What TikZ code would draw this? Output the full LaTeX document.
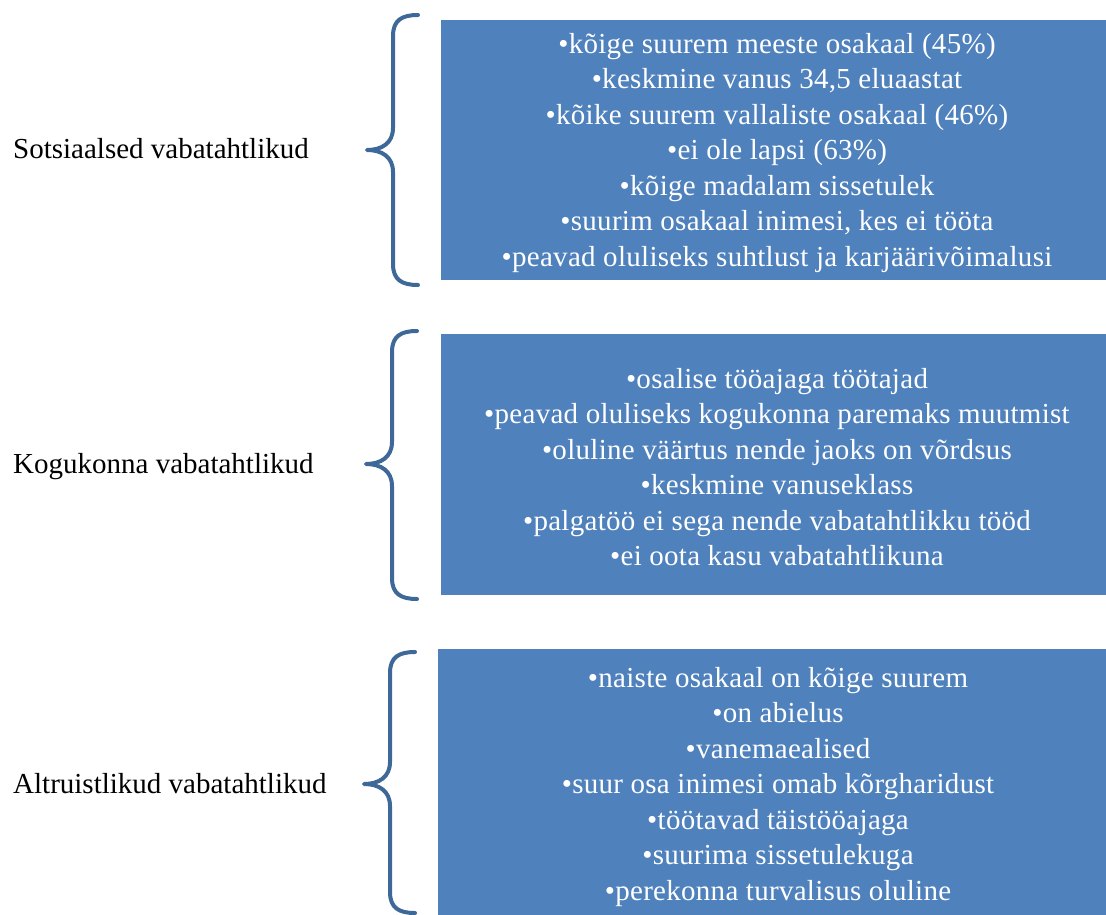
\documentclass[tikz,border=0pt]{standalone}
\usepackage{fontspec}
\setmainfont{Liberation Serif}
\newfontfamily\boxfont[LetterSpace=1]{Liberation Serif}
\definecolor{boxblue}{HTML}{4F81BD}
\definecolor{braceblue}{HTML}{3D6898}
\tikzset{
  infobox/.style={fill=boxblue, draw=none, anchor=north west, inner sep=0pt},
  boxtext/.style={text=white, align=center, font=\boxfont\fontsize{29}{35.5}\selectfont, inner sep=0pt},
  label/.style={anchor=base west, font=\fontsize{29}{33}\selectfont, inner sep=0pt},
  bracestyle/.style={draw=braceblue, line width=4pt, line cap=round, line join=round}
}
\begin{document}
\begin{tikzpicture}[x=1pt,y=-1pt]
\useasboundingbox (0,0) rectangle (1106,915);
\begin{scope}
\clip (0,0) rectangle (1106,915);
\node[infobox, minimum width=672pt, minimum height=260pt] (b1) at (441,20) {};
\node[infobox, minimum width=672pt, minimum height=261pt] (b2) at (441,334) {};
\node[infobox, minimum width=680pt, minimum height=272pt] (b3) at (438,649) {};
\end{scope}

\node[boxtext] (t1) at (777,153) {•kõige suurem meeste osakaal (45\%)\\•keskmine vanus 34,5 eluaastat\\•kõike suurem vallaliste osakaal (46\%)\\•ei ole lapsi (63\%)\\•kõige madalam sissetulek\\•suurim osakaal inimesi, kes ei tööta\\•peavad oluliseks suhtlust ja karjäärivõimalusi};
\node[boxtext] (t2) at (777,467) {•osalise tööajaga töötajad\\•peavad oluliseks kogukonna paremaks muutmist\\•oluline väärtus nende jaoks on võrdsus\\•keskmine vanuseklass\\•palgatöö ei sega nende vabatahtlikku tööd\\•ei oota kasu vabatahtlikuna};
\node[boxtext] (t3) at (778,787) {•naiste osakaal on kõige suurem\\•on abielus\\•vanemaealised\\•suur osa inimesi omab kõrgharidust\\•töötavad täistööajaga\\•suurima sissetulekuga\\•perekonna turvalisus oluline};

\node[label] (l1) at (13,158) {Sotsiaalsed vabatahtlikud};
\node[label] (l2) at (13,473) {Kogukonna vabatahtlikud};
\node[label] (l3) at (13,793) {Altruistlikud vabatahtlikud};

\draw[bracestyle] (418,15) .. controls (402,15) and (393,20) .. (393,36) -- (393,128) .. controls (393,143) and (382,150) .. (367,150) .. controls (382,150) and (393,157) .. (393,172) -- (393,264) .. controls (393,280) and (402,285) .. (418,285);
\draw[bracestyle] (417,331) .. controls (401,331) and (392,336) .. (392,352) -- (392,442) .. controls (392,457) and (381,464) .. (366,464) .. controls (381,464) and (392,471) .. (392,486) -- (392,578) .. controls (392,594) and (401,599) .. (417,599);
\draw[bracestyle] (415,652) .. controls (399,652) and (390,657) .. (390,673) -- (390,762) .. controls (390,777) and (379,784) .. (364,784) .. controls (379,784) and (390,791) .. (390,806) -- (390,892) .. controls (390,908) and (399,913) .. (415,913);
\end{tikzpicture}
\end{document}
